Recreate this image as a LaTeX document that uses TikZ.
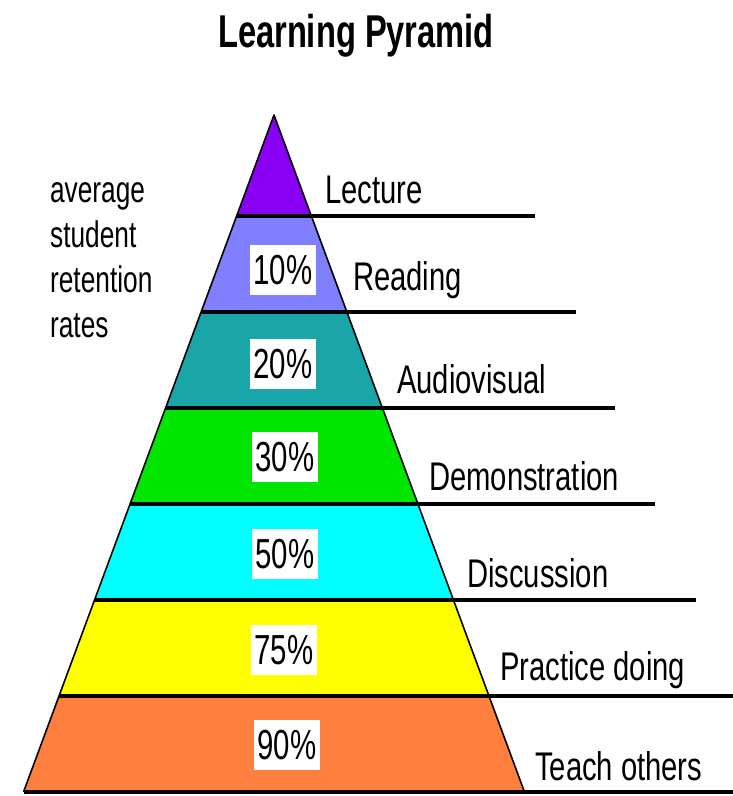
\documentclass[tikz,border=0pt]{standalone}
\usepackage{fontspec}
\setmainfont{Liberation Sans}
\usepackage{xcolor}
\usepackage{tikz}
\usetikzlibrary{positioning}

\definecolor{lecturecol}{HTML}{8A00F5}
\definecolor{readcol}{HTML}{8080FF}
\definecolor{avcol}{HTML}{1AA6A8}
\definecolor{democol}{HTML}{00E600}
\definecolor{disccol}{HTML}{00FFFF}
\definecolor{praccol}{HTML}{FFFF00}
\definecolor{teachcol}{HTML}{FF7F3F}

\begin{document}
\begin{tikzpicture}[x=1pt, y=-1pt]
        % Styles
        \tikzstyle{sep} = [line width=4pt]
        \tikzstyle{edge} = [line width=1.6pt, line join=round]
        \tikzstyle{level} = [anchor=base west, inner sep=0pt, xscale=0.73, font=\fontsize{40}{48}\selectfont]
        \tikzstyle{rate} = [fill=white, inner sep=0pt, xscale=0.7, minimum width=94pt, minimum height=50pt, font=\fontsize{42}{48}\selectfont]

        \useasboundingbox (0,0) rectangle (733,796);

        % Bands
        \foreach \top/\bot/\col in {115/216/lecturecol, 216/312/readcol, 312/408/avcol, 408/504/democol, 504/600/disccol, 600/696/praccol, 696/792/teachcol}
            \fill[\col] ({274-0.37*(\top-115)},\top) -- ({274+0.37*(\top-115)},\top) -- ({274+0.37*(\bot-115)},\bot) -- ({274-0.37*(\bot-115)},\bot) -- cycle;
        \draw[edge] (23.5,792) -- (274,115) -- (524.5,792);

        % Separators
        \foreach \y/\xe in {216/535, 312/576, 408/615, 504/655, 600/696, 696/733, 792/733}
            \draw[sep] ({274-0.37*(\y-115)},\y) -- (\xe,\y);

        % Title
        \node[anchor=base, inner sep=0pt, xscale=0.71, font=\fontsize{46}{50}\selectfont\bfseries] (title) at (356,47) {Learning Pyramid};

        % Rates
        \node[anchor=base west, inner sep=0pt, xscale=0.71, align=left, font=\fontsize{37}{45}\selectfont] (avg) at (50,337) {average\\student\\retention\\rates};
        \node[rate] (r10) at (283,270) {10\%};
        \node[rate] (r20) at (283,364) {20\%};
        \node[rate] (r30) at (285,457) {30\%};
        \node[rate] (r50) at (285,554) {50\%};
        \node[rate] (r75) at (284,650) {75\%};
        \node[rate] (r90) at (287,745) {90\%};

        % Levels
        \node[level] (lecture) at (325,203) {Lecture};
        \node[level] (reading) at (353,290) {Reading};
        \node[level] (av) at (397,393) {Audiovisual};
        \node[level] (demo) at (429,490) {Demonstration};
        \node[level] (disc) at (467,587) {Discussion};
        \node[level] (prac) at (500,680) {Practice doing};
        \node[level] (teach) at (535,780) {Teach others};
\end{tikzpicture}
\end{document}
